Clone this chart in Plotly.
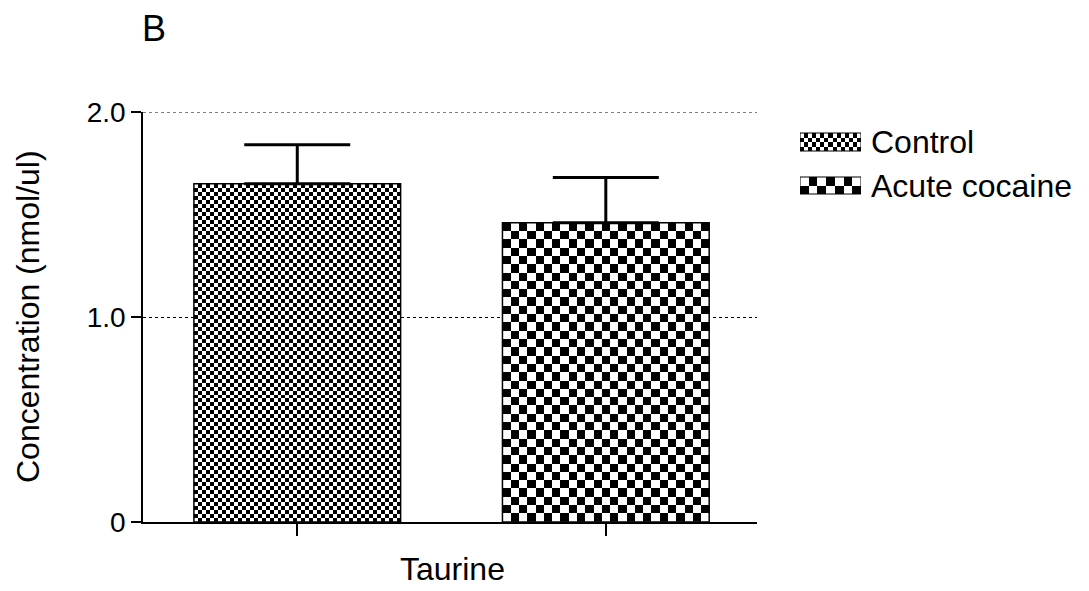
import numpy as np
import plotly.graph_objects as go

# ---- data ----
groups = ["Control", "Acute cocaine"]
means = [1.65, 1.46]
errors = [0.19, 0.22]
x_title = "Taurine"
y_title = "Concentration (nmol/ul)"
panel_label = "B"
y_tickvals = [0, 1, 2]
y_ticktext = ["0", "1.0", "2.0"]

# ---- layout constants (pixels) ----
W, H = 1089, 591
ML, MR, MT, MB = 143, 10, 112, 69
PW = W - ML - MR
PH = H - MT - MB
PLOT_RIGHT = 757
XR = [-0.5, 1.49]
YR = [0, 2.0]
BAR_W = 0.67
px_per_x = (PLOT_RIGHT - ML) / (XR[1] - XR[0])
px_per_y = PH / (YR[1] - YR[0])
cell_px = [4.0, 8.3]  # checker size per group (style)
X_DOMAIN_END = (PLOT_RIGHT - ML) / PW

FONT = "Arial, Liberation Sans, sans-serif"

fig = go.Figure()

xpos = list(range(len(groups)))

# checkerboard fills for bars (texture drawn inside each data bar)
for i, (m, c) in enumerate(zip(means, cell_px)):
    x0, x1 = xpos[i] - BAR_W / 2, xpos[i] + BAR_W / 2
    nx = max(1, int(round(BAR_W * px_per_x / c)))
    ny = max(1, int(round(m * px_per_y / c)))
    xe = np.linspace(x0, x1, nx + 1)
    ye = np.linspace(0, m, ny + 1)
    jj, ii = np.indices((ny, nx))
    z = ((ii + jj) % 2).astype(float)
    fig.add_trace(go.Heatmap(
        x=xe, y=ye, z=z, zmin=0, zmax=1, zsmooth=False,
        colorscale=[[0, "white"], [1, "black"]], showscale=False,
        hoverinfo="skip", xaxis="x", yaxis="y"))

# bar outlines + error bars
fig.add_trace(go.Bar(
    x=xpos, y=means, width=BAR_W,
    marker=dict(color="rgba(0,0,0,0)", line=dict(color="black", width=1.5)),
    error_y=dict(type="data", symmetric=False, array=errors,
                 arrayminus=[0] * len(errors), color="black",
                 thickness=3, width=53),
    showlegend=False, hoverinfo="skip"))

# dotted gridline at the top tick (plotly hides grid lines on the range edge)
fig.add_shape(type="line", xref="paper", yref="y", x0=0, x1=X_DOMAIN_END,
              y0=y_tickvals[-1], y1=y_tickvals[-1],
              line=dict(color="black", width=1, dash="dot"), layer="below")

# ---- custom legend (swatches on an auxiliary pixel-scaled axis) ----
LX0, LX1 = 800, 861
LY_TOP, LY_BOT = 128, 200
sw_rows = [(133, 151), (177, 194)]
for i, ((yt, yb), c) in enumerate(zip(sw_rows, cell_px)):
    nx = max(1, int(round((LX1 - LX0) / c)))
    ny = max(1, int(round((yb - yt) / c)))
    xe = np.linspace(0, LX1 - LX0, nx + 1)
    ye = np.linspace(yt, yb, ny + 1)
    jj, ii = np.indices((ny, nx))
    z = ((ii + jj) % 2).astype(float)
    fig.add_trace(go.Heatmap(
        x=xe, y=ye, z=z, zmin=0, zmax=1, zsmooth=False,
        colorscale=[[0, "white"], [1, "black"]], showscale=False,
        hoverinfo="skip", xaxis="x2", yaxis="y2"))
    fig.add_shape(type="rect", xref="x2", yref="y2", x0=0, x1=LX1 - LX0,
                  y0=yt, y1=yb, line=dict(color="black", width=1))
    fig.add_annotation(text=groups[i], xref="paper", yref="paper",
                       x=(869 - ML) / PW, y=(H - MB - (yt + yb) / 2) / PH,
                       xanchor="left", yanchor="middle", showarrow=False,
                       font=dict(family=FONT, size=32, color="black"))

# titles
fig.add_annotation(text=panel_label, xref="paper", yref="paper",
                   x=(154 - ML) / PW, y=(H - MB - 28) / PH,
                   xanchor="center", yanchor="middle", showarrow=False,
                   font=dict(family=FONT, size=36, color="black"))
fig.add_annotation(text=x_title, xref="paper", yref="paper",
                   x=(452 - ML) / PW, y=(H - MB - 569) / PH,
                   xanchor="center", yanchor="middle", showarrow=False,
                   font=dict(family=FONT, size=32, color="black"))
fig.add_annotation(text=y_title, xref="paper", yref="paper",
                   x=(28 - ML) / PW, y=0.5, textangle=-90,
                   xanchor="center", yanchor="middle", showarrow=False,
                   font=dict(family=FONT, size=32, color="black"))

fig.update_layout(
    width=W, height=H,
    margin=dict(l=ML, r=MR, t=MT, b=MB),
    plot_bgcolor="white", paper_bgcolor="white",
    showlegend=False,
    font=dict(family=FONT, color="black"),
    xaxis=dict(domain=[0, X_DOMAIN_END], range=XR,
               tickvals=xpos, ticktext=["", ""], ticks="outside",
               ticklen=12, tickwidth=1.5, tickcolor="black",
               showline=True, linecolor="black", linewidth=1.5,
               showgrid=False, zeroline=False, fixedrange=True),
    yaxis=dict(range=YR, tickvals=y_tickvals, ticktext=y_ticktext,
               ticks="outside", ticklen=10, tickwidth=1.5, tickcolor="black",
               tickfont=dict(family=FONT, size=28, color="black"),
               showline=True, linecolor="black", linewidth=1.5,
               showgrid=True, gridcolor="black", gridwidth=1, griddash="dot",
               zeroline=False, fixedrange=True),
    xaxis2=dict(domain=[(LX0 - ML) / PW, (LX1 - ML) / PW],
                range=[0, LX1 - LX0], visible=False, anchor="y2",
                fixedrange=True),
    yaxis2=dict(domain=[(H - MB - LY_BOT) / PH, (H - MB - LY_TOP) / PH],
                range=[LY_BOT, LY_TOP], visible=False, anchor="x2",
                fixedrange=True),
)

fig.write_html("out.html",
               config={"displayModeBar": False},
               post_script="document.body.style.margin='0';"
                           "document.body.style.overflow='hidden';")
